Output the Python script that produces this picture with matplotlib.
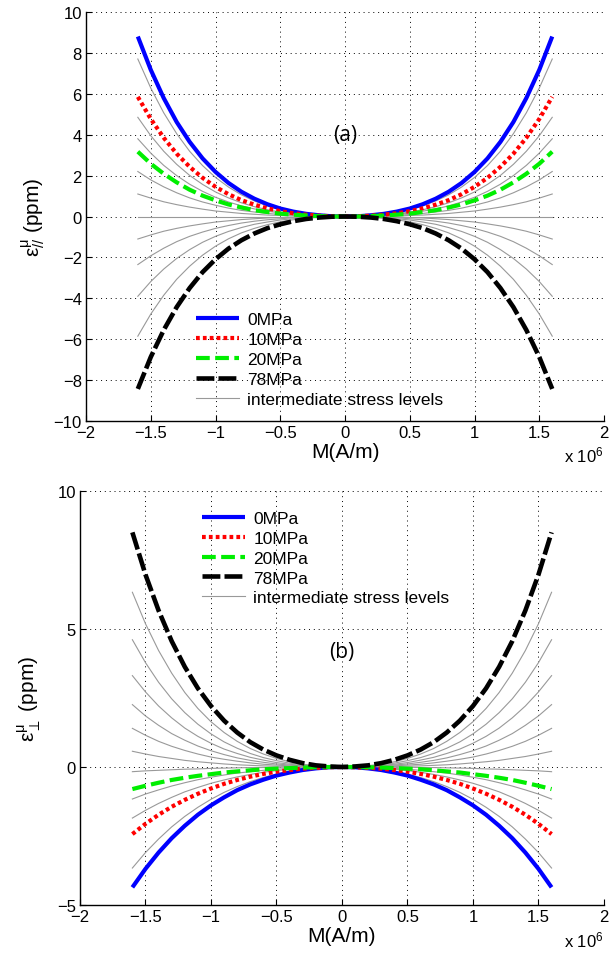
import numpy as np
import matplotlib
matplotlib.use("Agg")
import matplotlib.pyplot as plt
from matplotlib.lines import Line2D

plt.rcParams['font.family'] = ['Liberation Sans', 'DejaVu Sans']
plt.rcParams['mathtext.fontset'] = 'custom'
plt.rcParams['mathtext.rm'] = 'Liberation Sans'
plt.rcParams['mathtext.it'] = 'Liberation Sans'

# magnetisation, x 10^6 A/m (one half, curves are even in M)
m_half = [0.0, 0.1, 0.2, 0.3, 0.4, 0.5, 0.6, 0.7, 0.8, 0.9, 1.0, 1.1, 1.2, 1.3, 1.4, 1.5, 1.6]

# (a) parallel magnetostriction, ppm
par_0mpa = [0, 0.01, 0.06, 0.13, 0.24, 0.39, 0.60, 0.87, 1.21, 1.64, 2.18, 2.84, 3.65, 4.62, 5.79, 7.17, 8.80]
par_10mpa = [0, 0.01, 0.04, 0.09, 0.16, 0.26, 0.40, 0.58, 0.80, 1.09, 1.45, 1.89, 2.43, 3.07, 3.85, 4.77, 5.85]
par_20mpa = [0, 0.00, 0.02, 0.05, 0.09, 0.14, 0.22, 0.31, 0.44, 0.59, 0.79, 1.02, 1.31, 1.67, 2.09, 2.58, 3.17]
par_78mpa = [0, -0.01, -0.05, -0.12, -0.23, -0.38, -0.57, -0.83, -1.16, -1.57, -2.09, -2.72, -3.50, -4.43, -5.55, -6.87, -8.43]
par_mid = [
    [0, 0.01, 0.05, 0.11, 0.21, 0.34, 0.52, 0.76, 1.06, 1.44, 1.91, 2.49, 3.19, 4.05, 5.07, 6.28, 7.70],
    [0, 0.01, 0.03, 0.07, 0.13, 0.22, 0.33, 0.48, 0.67, 0.91, 1.20, 1.57, 2.01, 2.55, 3.19, 3.95, 4.85],
    [0, 0.01, 0.02, 0.06, 0.10, 0.17, 0.26, 0.37, 0.52, 0.71, 0.94, 1.23, 1.58, 2.00, 2.50, 3.10, 3.80],
    [0, 0.00, 0.01, 0.03, 0.06, 0.10, 0.15, 0.22, 0.30, 0.41, 0.55, 0.71, 0.91, 1.16, 1.45, 1.79, 2.20],
    [0, 0.00, 0.01, 0.02, 0.03, 0.05, 0.07, 0.11, 0.15, 0.21, 0.27, 0.36, 0.46, 0.58, 0.72, 0.90, 1.10],
    [0, 0, 0, 0, 0, 0, 0, 0, 0, 0, 0, 0, 0, 0, 0, 0, 0],
    [0, -0.00, -0.01, -0.02, -0.03, -0.05, -0.07, -0.11, -0.15, -0.21, -0.27, -0.36, -0.46, -0.58, -0.72, -0.90, -1.10],
    [0, -0.00, -0.02, -0.03, -0.06, -0.11, -0.16, -0.23, -0.32, -0.44, -0.58, -0.76, -0.97, -1.23, -1.55, -1.92, -2.35],
    [0, -0.01, -0.02, -0.06, -0.11, -0.17, -0.27, -0.38, -0.54, -0.73, -0.97, -1.26, -1.62, -2.05, -2.57, -3.18, -3.90],
    [0, -0.01, -0.04, -0.09, -0.16, -0.26, -0.40, -0.58, -0.80, -1.09, -1.45, -1.89, -2.43, -3.07, -3.85, -4.77, -5.85],
]

# (b) perpendicular magnetostriction, ppm
perp_0mpa = [0, -0.01, -0.05, -0.11, -0.20, -0.31, -0.46, -0.63, -0.84, -1.10, -1.39, -1.73, -2.13, -2.58, -3.10, -3.69, -4.36]
perp_10mpa = [0, -0.01, -0.03, -0.06, -0.11, -0.17, -0.25, -0.35, -0.47, -0.61, -0.78, -0.97, -1.19, -1.44, -1.73, -2.06, -2.43]
perp_20mpa = [0, 0.00, -0.01, -0.02, -0.04, -0.06, -0.08, -0.12, -0.16, -0.20, -0.26, -0.32, -0.39, -0.47, -0.57, -0.68, -0.80]
perp_78mpa = [0, 0.02, 0.06, 0.14, 0.26, 0.42, 0.63, 0.90, 1.25, 1.68, 2.21, 2.85, 3.63, 4.56, 5.67, 6.97, 8.50]
perp_mid = [
    [0, 0.01, 0.05, 0.10, 0.19, 0.31, 0.47, 0.67, 0.93, 1.25, 1.64, 2.12, 2.70, 3.40, 4.22, 5.19, 6.33],
    [0, 0.01, 0.03, 0.08, 0.14, 0.23, 0.34, 0.49, 0.68, 0.91, 1.20, 1.55, 1.97, 2.47, 3.07, 3.78, 4.61],
    [0, 0.01, 0.02, 0.05, 0.10, 0.16, 0.25, 0.35, 0.49, 0.65, 0.86, 1.11, 1.41, 1.78, 2.21, 2.72, 3.31],
    [0, 0.00, 0.02, 0.04, 0.07, 0.11, 0.17, 0.24, 0.33, 0.45, 0.59, 0.76, 0.97, 1.21, 1.51, 1.85, 2.26],
    [0, 0.00, 0.01, 0.02, 0.04, 0.07, 0.10, 0.15, 0.21, 0.28, 0.36, 0.47, 0.60, 0.75, 0.93, 1.15, 1.40],
    [0, 0.00, 0.00, 0.01, 0.02, 0.03, 0.04, 0.06, 0.08, 0.11, 0.15, 0.19, 0.24, 0.31, 0.38, 0.47, 0.57],
    [0, 0.00, 0.00, 0.00, -0.01, -0.01, -0.02, -0.02, -0.03, -0.04, -0.05, -0.07, -0.08, -0.10, -0.12, -0.14, -0.17],
    [0, 0.00, -0.01, -0.03, -0.05, -0.08, -0.12, -0.17, -0.22, -0.29, -0.37, -0.46, -0.57, -0.69, -0.83, -0.98, -1.16],
    [0, -0.01, -0.02, -0.05, -0.08, -0.13, -0.19, -0.27, -0.36, -0.47, -0.59, -0.74, -0.90, -1.10, -1.32, -1.57, -1.85],
    [0, -0.01, -0.04, -0.09, -0.16, -0.26, -0.38, -0.53, -0.71, -0.92, -1.17, -1.46, -1.79, -2.17, -2.61, -3.10, -3.66],
]

labels = ['0MPa', '10MPa', '20MPa', '78MPa', 'intermediate stress levels']


def full(v):
    # mirror the M >= 0 half onto negative M
    v = np.asarray(v, dtype=float)
    return np.concatenate([v[:0:-1], v])


m = np.concatenate([-np.asarray(m_half)[:0:-1], m_half])

styles = [
    dict(color='#0000ff', lw=3.0, ls='-', solid_capstyle='butt'),
    dict(color='#ff0000', lw=3.0, ls=(0, (0.9, 0.75)), dash_capstyle='butt'),
    dict(color='#00ee00', lw=3.0, ls=(0, (3.3, 1.3)), dash_capstyle='butt'),
    dict(color='black', lw=3.3, ls=(0, (3.9, 0.9)), dash_capstyle='butt'),
]
grey = dict(color='#999999', lw=0.8)


def setup(ax, yticks, ylim):
    ax.set_xlim(-2, 2)
    ax.set_ylim(*ylim)
    ax.set_xticks(np.arange(-2, 2.01, 0.5))
    ax.set_xticklabels(['\u22122', '\u22121.5', '\u22121', '\u22120.5', '0', '0.5', '1', '1.5', '2'])
    ax.set_yticks(yticks)
    ax.set_yticklabels([str(t).replace('-', '\u2212') for t in yticks])
    ax.grid(True, color='black', lw=0.7, ls=(0, (1, 4)))
    ax.spines['top'].set_visible(False)
    ax.spines['right'].set_visible(False)
    ax.spines['left'].set_linewidth(1.0)
    ax.spines['bottom'].set_linewidth(1.0)
    ax.tick_params(direction='in', length=4, labelsize=12, pad=3, color='black')
    ax.set_xlabel('M(A/m)', fontsize=15, labelpad=1)
    ax.text(1.0, -0.082, 'x 10$^{6}$', transform=ax.transAxes, ha='right', va='center', fontsize=12)


fig = plt.figure(figsize=(6.11, 9.62), dpi=100)
ax1 = fig.add_axes([0.1408, 0.5613, 0.8478, 0.4252])
ax2 = fig.add_axes([0.1309, 0.0582, 0.8576, 0.4304])

for ax, mains, mids in [(ax1, [par_0mpa, par_10mpa, par_20mpa, par_78mpa], par_mid),
                        (ax2, [perp_0mpa, perp_10mpa, perp_20mpa, perp_78mpa], perp_mid)]:
    for v in mids:
        ax.plot(m, full(v), **grey)
    for v, st in zip(mains, styles):
        ax.plot(m, full(v), **st)

setup(ax1, list(range(-10, 11, 2)), (-10, 10))
setup(ax2, [-5, 0, 5, 10], (-5, 10))

ax1.set_ylabel('\u03b5$^{\\mathrm{\u03bc}}_{//}$ (ppm)', fontsize=15, labelpad=4)
ax2.set_ylabel('\u03b5$^{\\mathrm{\u03bc}}_{\\perp}$ (ppm)', fontsize=15, labelpad=10)

ax1.text(0.0, 4.0, '(a)', ha='center', va='center', fontsize=15, family='Open Sans')
ax2.text(0.0, 4.2, '(b)', ha='center', va='center', fontsize=15, family='Open Sans')

handles = [Line2D([], [], **st) for st in styles] + [Line2D([], [], **grey)]
leg_kw = dict(frameon=False, fontsize=12.5, handlelength=2.5, handletextpad=0.46,
              labelspacing=0.27, borderpad=0, borderaxespad=0, loc='upper left')
ax1.legend(handles, labels, bbox_to_anchor=(0.212, 0.266), **leg_kw)
ax2.legend(handles, labels, bbox_to_anchor=(0.233, 0.952), **leg_kw)

fig.savefig('out.png', dpi=100)
